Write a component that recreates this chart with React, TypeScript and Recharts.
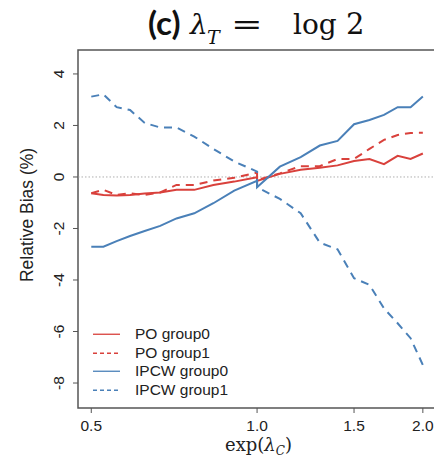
import React from "react";
import { LineChart, Line, XAxis, YAxis, ReferenceLine, ReferenceArea, Legend } from "recharts";

// exp(lambda_C) values: left branch (1/2 ... 1/1.1, 1.0) and right branch (1.0, 1.1 ... 2.0)
const xValues = [0.5, 0.526, 0.556, 0.588, 0.625, 0.667, 0.714, 0.769, 0.833, 0.909, 1.0, 1.0, 1.1, 1.2, 1.3, 1.4, 1.5, 1.6, 1.7, 1.8, 1.9, 2.0];
const poGroup0 = [-0.63, -0.7, -0.72, -0.7, -0.64, -0.6, -0.5, -0.5, -0.31, -0.18, -0.01, -0.15, 0.12, 0.28, 0.36, 0.45, 0.62, 0.7, 0.5, 0.82, 0.7, 0.91];
const poGroup1 = [-0.63, -0.5, -0.7, -0.63, -0.7, -0.6, -0.31, -0.31, -0.14, -0.03, 0.17, -0.12, 0.14, 0.42, 0.42, 0.7, 0.7, 1.09, 1.44, 1.63, 1.71, 1.72];
const ipcwGroup0 = [-2.71, -2.71, -2.49, -2.29, -2.1, -1.9, -1.61, -1.41, -1.02, -0.53, -0.15, -0.4, 0.4, 0.77, 1.22, 1.4, 2.05, 2.21, 2.41, 2.71, 2.71, 3.12];
const ipcwGroup1 = [3.12, 3.21, 2.71, 2.6, 2.1, 1.92, 1.92, 1.57, 1.09, 0.6, 0.21, -0.4, -0.85, -1.41, -2.55, -2.81, -3.93, -4.19, -5.1, -5.68, -6.26, -7.3];

const xTicks = [0.5, 1.0, 1.5, 2.0];
const yTicks = [-8, -6, -4, -2, 0, 2, 4];
const xDomain = [0.473, 2.113];
const yDomain = [-8.97, 4.93];

const RED = "#d9413c";
const BLUE = "#4a80b8";

const series = [
  { key: "po0", name: "PO group0", color: RED, dash: undefined as string | undefined, legendDash: undefined as string | undefined },
  { key: "po1", name: "PO group1", color: RED, dash: "8 6", legendDash: "4 3" },
  { key: "ipcw0", name: "IPCW group0", color: BLUE, dash: undefined, legendDash: undefined },
  { key: "ipcw1", name: "IPCW group1", color: BLUE, dash: "8 6", legendDash: "4 3" },
];

const data = xValues.map((x, i) => ({
  x,
  po0: poGroup0[i],
  po1: poGroup1[i],
  ipcw0: ipcwGroup0[i],
  ipcw1: ipcwGroup1[i],
}));

const sans = "'Liberation Sans', Arial, Helvetica, sans-serif";
const serif = "'DejaVu Serif', 'Liberation Serif', serif";

const XTick = (props: any) => {
  const { x, y, payload } = props;
  return (
    <text x={x} y={y + 10} textAnchor="middle" dominantBaseline="central" fontFamily={sans} fontSize={15.5} fill="#222">
      {Number(payload.value).toFixed(1)}
    </text>
  );
};

const YTick = (props: any) => {
  const { x, y, payload } = props;
  const cx = x - 12;
  return (
    <text x={cx} y={y} transform={`rotate(-90 ${cx} ${y})`} textAnchor="middle" dominantBaseline="central" fontFamily={sans} fontSize={15.5} fill="#222">
      {String(payload.value)}
    </text>
  );
};

const LegendContent = () => (
  <div style={{ fontFamily: sans, fontSize: 15.5, color: "#222", lineHeight: "18.5px" }}>
    {series.map((s) => (
      <div key={s.key} style={{ display: "flex", alignItems: "center", height: 18.5 }}>
        <svg width={27} height={18.5} style={{ display: "block" }}>
          <line x1={0} x2={27} y1={9.25} y2={9.25} stroke={s.color} strokeWidth={1.3} strokeDasharray={s.legendDash} />
        </svg>
        <span style={{ marginLeft: 15, whiteSpace: "nowrap" }}>{s.name}</span>
      </div>
    ))}
  </div>
);

export default function App() {
  return (
    <div style={{ position: "absolute", left: 0, top: 0, width: 434, height: 458, background: "#fff", overflow: "hidden" }}>
      <LineChart width={434} height={458} data={data} margin={{ top: 50, right: -2, bottom: 0, left: 0 }}>
        <XAxis
          dataKey="x"
          type="number"
          scale="log"
          domain={xDomain}
          ticks={xTicks}
          allowDataOverflow
          height={50}
          axisLine={false}
          tickSize={5}
          tickLine={{ stroke: "#555", strokeWidth: 1 }}
          tick={<XTick />}
        />
        <YAxis
          type="number"
          domain={yDomain}
          ticks={yTicks}
          allowDataOverflow
          width={78}
          axisLine={false}
          tickSize={5}
          tickLine={{ stroke: "#555", strokeWidth: 1 }}
          tick={<YTick />}
        />
        <ReferenceArea
          x1={xDomain[0]}
          x2={xDomain[1]}
          y1={yDomain[0]}
          y2={yDomain[1]}
          fill="none"
          fillOpacity={0}
          stroke="#555"
          strokeWidth={1.5}
          ifOverflow="visible"
        />
        <ReferenceLine y={0} stroke="#999" strokeWidth={0.8} strokeDasharray="1.5 2" />
        {series.map((s) => (
          <Line
            key={s.key}
            dataKey={s.key}
            name={s.name}
            type="linear"
            stroke={s.color}
            strokeWidth={2}
            strokeDasharray={s.dash}
            dot={false}
            activeDot={false}
            isAnimationActive={false}
          />
        ))}
        <Legend
          layout="vertical"
          align="center"
          verticalAlign="middle"
          content={<LegendContent />}
          wrapperStyle={{ position: "absolute", left: 93, top: 325.25, width: 200 }}
        />
      </LineChart>
      <svg width={434} height={458} style={{ position: "absolute", left: 0, top: 0, pointerEvents: "none" }}>
        <text x={148} y={35} fontFamily="Lato, 'Open Sans', sans-serif" fontWeight={700} fontSize={33} fill="#111">(c)</text>
        <text x={190} y={34} fontFamily={serif} fontStyle="italic" fontSize={28} fill="#111">λ</text>
        <text x={207} y={44} fontFamily={serif} fontStyle="italic" fontSize={19} fill="#111">T</text>
        <text x={0} y={0} transform="translate(231,34) scale(1.35,1)" fontFamily={serif} fontSize={28} fill="#111">=</text>
        <text x={293} y={34} fontFamily={serif} fontSize={28} fill="#111">log</text>
        <text x={346} y={34} fontFamily={serif} fontSize={29} fill="#111">2</text>
        <text x={27} y={215} transform="rotate(-90 27 215)" textAnchor="middle" dominantBaseline="central" fontFamily={sans} fontSize={17.5} fill="#222">
          Relative Bias (%)
        </text>
        <text x={225} y={451} fontFamily={serif} fontSize={18} fill="#222">
          exp(<tspan fontStyle="italic">λ</tspan>
          <tspan fontStyle="italic" fontSize={12} dy={4}>C</tspan>
          <tspan dy={-4}>)</tspan>
        </text>
      </svg>
    </div>
  );
}
